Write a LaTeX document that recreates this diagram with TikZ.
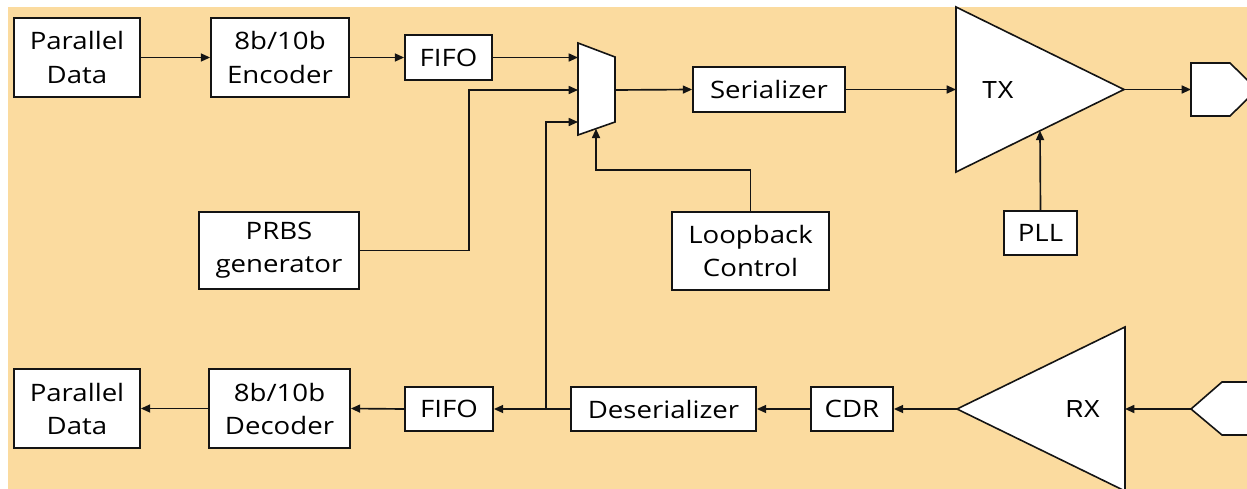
\documentclass[tikz,border=0pt]{standalone}
\usepackage{fontspec}
\setmainfont{Open Sans}[FakeStretch=1.15]
\newfontfamily\arialfont{Liberation Sans}
\usetikzlibrary{arrows.meta}
\definecolor{panel}{RGB}{251,219,159}
\definecolor{ink}{RGB}{20,20,20}
\newlength{\px}
\setlength{\px}{0.75pt}
\tikzset{
  blk/.style={draw=ink, line width=1.3pt, fill=white, align=center, inner sep=0pt,
    font=\fontsize{18}{24.75}\selectfont},
  shp/.style={draw=ink, line width=1.2pt, fill=white, line join=miter},
  arr/.style={draw=ink, line width=1.25pt, -{Triangle[length=7pt,width=6pt]}},
  wire/.style={draw=ink, line width=1.25pt},
  amp/.style={font=\arialfont\fontsize{18.5}{20}\selectfont, inner sep=0pt}
}
\begin{document}
\begin{tikzpicture}[x=0.75pt, y=-0.75pt]
\useasboundingbox (0,0) rectangle (1247,489);
\clip (0,0) rectangle (1247,489);
\fill[panel] (8,7) rectangle (1247,489);

% transmit path blocks
\node[blk, minimum width=126*\px, minimum height=79*\px] (pdt) at (77,57.5) {Parallel\\Data};
\node[blk, minimum width=138*\px, minimum height=79*\px] (enc) at (280,57.5) {8b/10b\\Encoder};
\node[blk, minimum width=87*\px, minimum height=45*\px] (fifot) at (448.5,57.5) {FIFO};
\node[blk, minimum width=152*\px, minimum height=45*\px] (ser) at (769,89.5) {Serializer};
\node[blk, minimum width=160*\px, minimum height=77*\px] (prbs) at (279,250.5) {PRBS\\generator};
\node[blk, minimum width=157*\px, minimum height=78*\px] (loop) at (750.5,251) {Loopback\\Control};
\node[blk, minimum width=73*\px, minimum height=44*\px] (pll) at (1040.5,233) {PLL};

% receive path blocks
\node[blk, minimum width=126*\px, minimum height=79*\px] (pdb) at (77,408.5) {Parallel\\Data};
\node[blk, minimum width=141*\px, minimum height=79*\px] (dec) at (279.5,408.5) {8b/10b\\Decoder};
\node[blk, minimum width=88*\px, minimum height=44*\px] (fifob) at (449,409) {FIFO};
\node[blk, minimum width=185*\px, minimum height=44*\px] (des) at (663.5,409) {Deserializer};
\node[blk, minimum width=82*\px, minimum height=44*\px] (cdr) at (852,409) {CDR};

% multiplexer
\draw[shp] (578,43) -- (615,57) -- (615,122) -- (578,135) -- cycle;
\coordinate (muxin1) at (578,57.5);
\coordinate (muxin2) at (578,90);
\coordinate (muxin3) at (578,122);
\coordinate (muxout) at (615,90);
\coordinate (muxctl) at (596,128.7);

% TX driver
\draw[shp] (956,7) -- (1124,89.5) -- (956,172) -- cycle;
\coordinate (txin) at (956,89.5);
\coordinate (txout) at (1124,89.5);
\coordinate (txpll) at (1040,130.7);
\node[amp] (txlbl) at (998,90) {TX};

% RX receiver
\draw[shp] (957,409) -- (1125,327) -- (1125,491) -- cycle;
\coordinate (rxout) at (957,409);
\coordinate (rxin) at (1125,409);
\node[amp] (rxlbl) at (1083,409) {RX};

% off-chip connectors
\draw[shp] (1191,63) -- (1230,63) -- (1257,89.5) -- (1230,116) -- (1191,116) -- cycle;
\coordinate (conout) at (1191,89.5);
\draw[shp] (1191,409) -- (1222,382) -- (1260,382) -- (1260,435) -- (1222,435) -- cycle;
\coordinate (conin) at (1191,409);

% transmit connections
\draw[arr] (pdt.east) -- (enc.west);
\draw[arr] (enc.east) -- (fifot.west);
\draw[arr] (fifot.east) -- (muxin1);
\coordinate (prbsbend) at (469,90);
\draw[arr] (prbs.east) -| (prbsbend) -- (muxin2);
\coordinate (lbbend) at (596,170);
\draw[arr] (loop.north) |- (lbbend) -- (muxctl);
\draw[arr] (muxout) -- (ser.west);
\draw[arr] (ser.east) -- (txin);
\draw[arr] (txout) -- (conout);
\draw[arr] (pll.north) -- (txpll);

% receive connections
\draw[arr] (conin) -- (rxin);
\draw[arr] (rxout) -- (cdr.east);
\draw[arr] (cdr.west) -- (des.east);
\draw[arr] (des.west) -- (fifob.east);
\draw[arr] (fifob.west) -- (dec.east);
\draw[arr] (dec.west) -- (pdb.east);

% loopback tap
\coordinate (tap) at (546,409);
\coordinate (tapup) at (546,122);
\draw[arr] (tap) -- (tapup) -- (muxin3);
\end{tikzpicture}
\end{document}
